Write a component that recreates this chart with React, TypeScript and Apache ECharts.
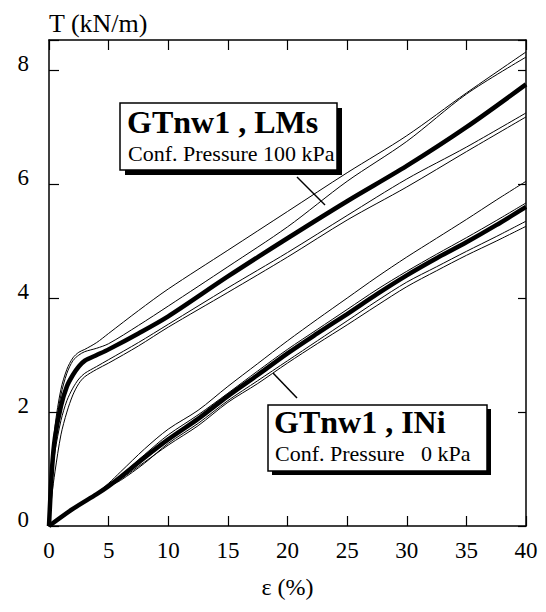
import React, { useEffect, useRef } from "react";
import * as echarts from "echarts";

// ---- data ----
// Group 1: GTnw1 , LMs  (confining pressure 100 kPa)
const strainLMs = [0, 0.25, 0.5, 1, 1.5, 2, 2.5, 3, 4, 5, 7.5, 10, 15, 20, 25, 30, 35, 40];
const lmsMean = [0, 1.0, 1.55, 2.1, 2.45, 2.65, 2.8, 2.9, 3.0, 3.1, 3.38, 3.68, 4.38, 5.05, 5.7, 6.32, 7.0, 7.75];
const lmsA = [0, 1.1, 1.75, 2.4, 2.75, 2.95, 3.05, 3.1, 3.22, 3.38, 3.78, 4.16, 4.84, 5.52, 6.2, 6.85, 7.6, 8.32];
const lmsB = [0, 1.05, 1.65, 2.3, 2.68, 2.9, 3.0, 3.06, 3.12, 3.2, 3.52, 3.86, 4.55, 5.25, 6.05, 6.75, 7.58, 8.23];
const lmsC = [0, 0.8, 1.3, 1.85, 2.2, 2.42, 2.58, 2.68, 2.8, 2.92, 3.22, 3.54, 4.18, 4.8, 5.45, 6.09, 6.65, 7.25];
const lmsD = [0, 0.55, 0.95, 1.6, 2.0, 2.3, 2.5, 2.62, 2.75, 2.86, 3.16, 3.49, 4.1, 4.72, 5.37, 5.95, 6.57, 7.18];

// Group 2: GTnw1 , INi  (confining pressure 0 kPa)
const strainINi = [0, 2, 4, 5, 6, 8, 10, 12.5, 15, 17.5, 20, 22.5, 25, 27.5, 30, 32.5, 35, 37.5, 40];
const iniMean = [0, 0.3, 0.56, 0.7, 0.86, 1.2, 1.52, 1.88, 2.28, 2.65, 3.03, 3.38, 3.72, 4.07, 4.4, 4.7, 4.98, 5.28, 5.6];
const iniA = [0, 0.3, 0.58, 0.75, 0.95, 1.35, 1.7, 2.03, 2.45, 2.85, 3.25, 3.63, 4.0, 4.37, 4.72, 5.05, 5.38, 5.72, 6.05];
const iniB = [0, 0.3, 0.57, 0.71, 0.88, 1.25, 1.6, 1.95, 2.33, 2.72, 3.1, 3.45, 3.8, 4.15, 4.47, 4.77, 5.06, 5.36, 5.67];
const iniC = [0, 0.28, 0.55, 0.69, 0.8, 1.1, 1.45, 1.8, 2.2, 2.55, 2.9, 3.25, 3.6, 3.95, 4.28, 4.55, 4.82, 5.08, 5.35];
const iniD = [0, 0.28, 0.55, 0.68, 0.82, 1.12, 1.42, 1.76, 2.17, 2.5, 2.86, 3.2, 3.53, 3.87, 4.2, 4.48, 4.75, 5.0, 5.26];

const xTicks = [0, 5, 10, 15, 20, 25, 30, 35, 40];
const yTicks = [0, 2, 4, 6, 8];

const xName = "ε (%)";
const yName = "T (kN/m)";
const label1Title = "GTnw1 , LMs";
const label1Sub = "Conf. Pressure 100 kPa";
const label2Title = "GTnw1 , INi";
const label2Sub = "Conf. Pressure\u00a0\u00a0\u00a00 kPa";

const FONT = "'Liberation Serif', 'Times New Roman', serif";

function pairs(xs: number[], ys: number[]) {
  return xs.map((x, i) => [x, ys[i]]);
}

export default function App() {
  const ref = useRef<HTMLDivElement>(null);

  useEffect(() => {
    if (!ref.current) return;
    const chart = echarts.init(ref.current, undefined, { renderer: "svg" });

    const thin = (xs: number[], ys: number[]) => ({
      type: "line",
      data: pairs(xs, ys),
      showSymbol: false,
      smooth: 0.3,
      lineStyle: { color: "#000", width: 1 },
      xAxisIndex: 0,
      yAxisIndex: 0,
    });
    const thick = (xs: number[], ys: number[]) => ({
      type: "line",
      data: pairs(xs, ys),
      showSymbol: false,
      smooth: 0.3,
      lineStyle: { color: "#000", width: 4.5 },
      xAxisIndex: 0,
      yAxisIndex: 0,
      z: 3,
    });

    const axisLine = { show: true, onZero: false, lineStyle: { color: "#000", width: 1.5 } };
    const tick = { show: true, inside: true, length: 10, lineStyle: { color: "#000", width: 1.2 } };
    const xMin = xTicks[0];
    const xMax = xTicks[xTicks.length - 1];
    const yMax = 8.53;

    const txt = (x: number, y: number, text: string, font: string) => ({
      type: "text",
      x,
      y,
      z: 12,
      style: { text, fill: "#000", font, align: "left", verticalAlign: "middle" },
    });

    const option: any = {
      animation: false,
      backgroundColor: "#fff",
      grid: { left: 49, right: 20, top: 40, bottom: 86, containLabel: false },
      xAxis: [
        {
          type: "value",
          min: xMin,
          max: xMax,
          interval: 5,
          position: "bottom",
          axisLine,
          axisTick: tick,
          splitLine: { show: false },
          axisLabel: {
            color: "#000",
            fontFamily: FONT,
            fontSize: 23,
            margin: 24,
            verticalAlign: "middle",
          },
          name: xName,
          nameLocation: "middle",
          nameGap: 61,
          nameTextStyle: { color: "#000", fontFamily: FONT, fontSize: 24, verticalAlign: "middle" },
        },
        {
          type: "value",
          min: xMin,
          max: xMax,
          interval: 5,
          position: "top",
          axisLine,
          axisTick: tick,
          splitLine: { show: false },
          axisLabel: { show: false },
        },
      ],
      yAxis: [
        {
          type: "value",
          min: 0,
          max: yMax,
          interval: 2,
          position: "left",
          axisLine,
          axisTick: tick,
          splitLine: { show: false },
          axisLabel: {
            color: "#000",
            fontFamily: FONT,
            fontSize: 23,
            margin: 20,
            verticalAlign: "bottom",
            lineHeight: 14,
            formatter: (v: number) => (yTicks.includes(v) ? String(v) : ""),
          },
          name: yName,
          nameLocation: "end",
          nameGap: 17,
          nameTextStyle: {
            color: "#000",
            fontFamily: FONT,
            fontSize: 26,
            align: "left",
            verticalAlign: "middle",
          },
        },
        {
          type: "value",
          min: 0,
          max: yMax,
          interval: 2,
          position: "right",
          axisLine,
          axisTick: { ...tick, length: 8 },
          splitLine: { show: false },
          axisLabel: { show: false },
        },
      ],
      series: [
        thin(strainLMs, lmsA),
        thin(strainLMs, lmsB),
        thin(strainLMs, lmsC),
        thin(strainLMs, lmsD),
        thick(strainLMs, lmsMean),
        thin(strainINi, iniA),
        thin(strainINi, iniB),
        thin(strainINi, iniC),
        thin(strainINi, iniD),
        thick(strainINi, iniMean),
      ],
      graphic: [
        // leader lines
        { type: "line", shape: { x1: 297, y1: 177, x2: 325, y2: 205 }, style: { stroke: "#000", lineWidth: 1.5 }, z: 10 },
        { type: "line", shape: { x1: 273, y1: 373, x2: 297, y2: 398 }, style: { stroke: "#000", lineWidth: 1.5 }, z: 10 },
        // box 1
        { type: "rect", shape: { x: 125, y: 108, width: 217, height: 67 }, style: { fill: "#000" }, z: 10 },
        { type: "rect", shape: { x: 120, y: 103, width: 217, height: 67 }, style: { fill: "#fff", stroke: "#000", lineWidth: 1.5 }, z: 11 },
        txt(127, 121.5, label1Title, `bold 32px ${FONT}`),
        txt(128, 153.5, label1Sub, `22px ${FONT}`),
        // box 2
        { type: "rect", shape: { x: 272, y: 409, width: 219, height: 66 }, style: { fill: "#000" }, z: 10 },
        { type: "rect", shape: { x: 268, y: 405, width: 219, height: 66 }, style: { fill: "#fff", stroke: "#000", lineWidth: 1.5 }, z: 11 },
        txt(274, 421.5, label2Title, `bold 32px ${FONT}`),
        txt(275, 453, label2Sub, `22px ${FONT}`),
      ],
    };

    chart.setOption(option);
    return () => chart.dispose();
  }, []);

  return (
    <div
      ref={ref}
      style={{ position: "fixed", left: 0, top: 0, width: 546, height: 612, background: "#fff" }}
    />
  );
}
